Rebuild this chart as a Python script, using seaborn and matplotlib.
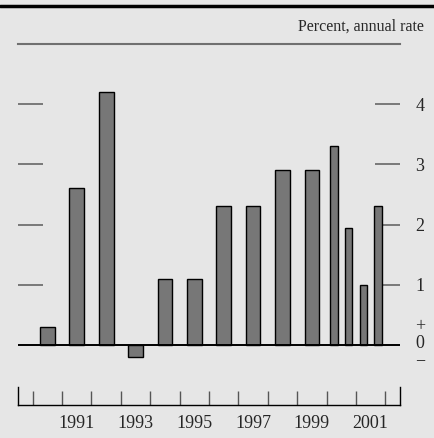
import matplotlib
matplotlib.use("Agg")
import matplotlib.pyplot as plt
from matplotlib.lines import Line2D
import matplotlib.transforms as mtransforms
import numpy as np
import pandas as pd
import seaborn as sns

# annual growth, 1990-1999
years = [1990, 1991, 1992, 1993, 1994, 1995, 1996, 1997, 1998, 1999]
annual_rate = [0.3, 2.6, 4.2, -0.2, 1.1, 1.1, 2.3, 2.3, 2.9, 2.9]

# half-year growth, 2000-2001
half_periods = ["2000H1", "2000H2", "2001H1", "2001H2"]
half_rate = [3.3, 1.95, 1.0, 2.3]

year_labels = ["1991", "1993", "1995", "1997", "1999", "2001"]
y_ticks = [1, 2, 3, 4]

BG = "#e6e6e6"
BAR = "#777777"

sns.set_style("white")
plt.rcParams["font.family"] = ["Liberation Serif", "DejaVu Serif"]

annual_df = pd.DataFrame({"x": np.array(years) + 0.5, "rate": annual_rate})
half_x = [int(p[:4]) + (0.25 if p.endswith("H1") else 0.75) for p in half_periods]
half_df = pd.DataFrame({"x": half_x, "rate": half_rate})

fig = plt.figure(figsize=(4.34, 4.38), dpi=100)
fig.patch.set_facecolor(BG)
ax = fig.add_axes([18 / 434, 33 / 438, 382 / 434, 361 / 438])
ax.set_facecolor(BG)

sns.barplot(data=annual_df, x="x", y="rate", native_scale=True, width=0.5,
            color=BAR, edgecolor="black", linewidth=1, saturation=1,
            errorbar=None, ax=ax)
sns.barplot(data=half_df, x="x", y="rate", native_scale=True, width=0.5,
            color=BAR, edgecolor="black", linewidth=1, saturation=1,
            errorbar=None, ax=ax)

ax.axhline(0, color="black", lw=1.4, zorder=1)

ax.set_xlim(1989.5, 2002.5)
ax.set_ylim(-1, 5)
ax.set_xlabel("")
ax.set_ylabel("")

# x axis: labels centered in year, boundary ticks as minor
ax.set_xticks([int(y) + 0.5 for y in year_labels])
ax.set_xticklabels(year_labels)
ax.set_xticks(range(1990, 2003), minor=True)
ax.tick_params(axis="x", which="major", length=0, pad=7, labelsize=13)
ax.tick_params(axis="x", which="minor", direction="in", length=10,
               width=1, color="#555555", bottom=True)

ax.set_yticks(y_ticks)
ax.set_yticklabels([str(v) for v in y_ticks])
ax.tick_params(axis="y", direction="in", length=18, width=1.3,
               color="#707070", left=True, right=True,
               labelleft=False, labelright=True, pad=11, labelsize=13)

for s in ["left", "right"]:
    ax.spines[s].set_bounds(-1, -0.7)
    ax.spines[s].set_color("black")
    ax.spines[s].set_linewidth(1)
ax.spines["bottom"].set_color("black")
ax.spines["bottom"].set_linewidth(1)
ax.spines["top"].set_color("#707070")
ax.spines["top"].set_linewidth(1.5)

trans = mtransforms.blended_transform_factory(ax.transAxes, ax.transData)
for txt, yv in [("+", 0.3), ("0", 0.02), ("\u2212", -0.27)]:
    ax.text(1.052, yv, txt, transform=trans, ha="center", va="center",
            fontsize=13)

fig.add_artist(Line2D([0, 1], [1 - 6 / 438, 1 - 6 / 438],
                      transform=fig.transFigure, color="black", lw=2.5))
fig.text(424 / 434, 1 - 27 / 438, "Percent, annual rate", ha="right",
         va="center", fontsize=11.5)

fig.savefig("out.png", dpi=100, facecolor=BG)
